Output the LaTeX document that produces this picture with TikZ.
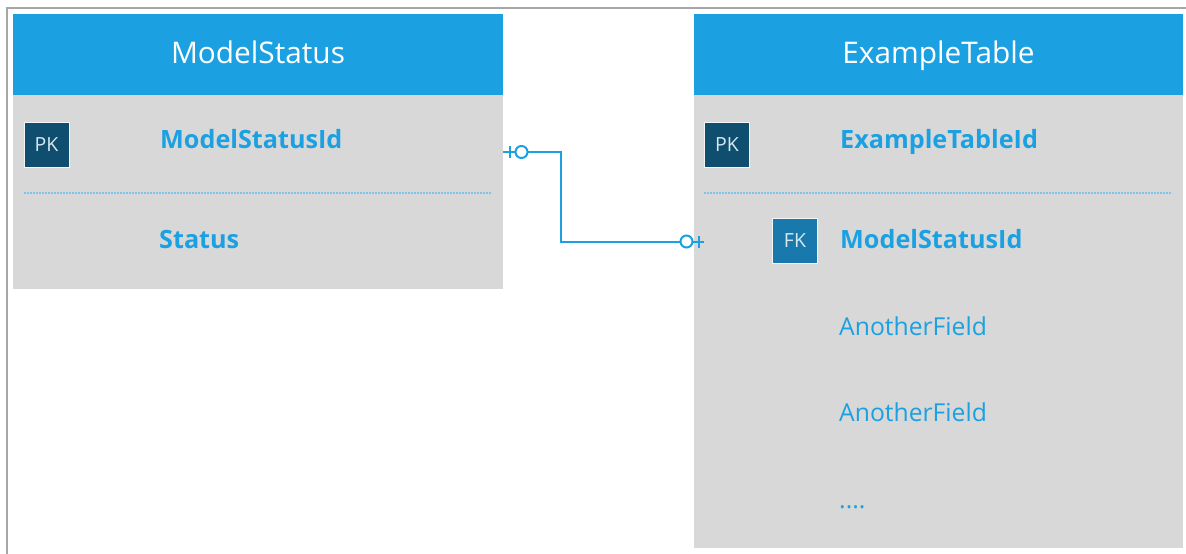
\documentclass[tikz,border=0pt]{standalone}
\usepackage{fontspec}
\setmainfont{Open Sans}
\definecolor{hdr}{HTML}{1BA1E2}
\definecolor{bodyg}{HTML}{D8D8D8}
\definecolor{pkc}{HTML}{0F4E6E}
\definecolor{fkc}{HTML}{1A79AC}
\definecolor{framec}{HTML}{A6A6A6}
\definecolor{dotc}{HTML}{7EC4EA}
\definecolor{keytxt}{HTML}{D6E8F2}
\begin{document}
\begin{tikzpicture}[x=1pt,y=-1pt,
  hdrbox/.style={fill=hdr, draw=none, inner sep=0pt, minimum height=81pt, anchor=north west},
  hdrtext/.style={anchor=base, inner sep=0pt, text=white, font=\fontsize{29.8}{32}\selectfont},
  bodybox/.style={fill=bodyg, draw=none, inner sep=0pt, anchor=north west},
  keybox/.style={draw=white!92!gray, line width=1pt, inner sep=0pt, minimum size=45pt, text=keytxt, font=\fontsize{19.5}{20}\selectfont},
  fieldb/.style={anchor=base west, inner sep=0pt, text=hdr, font=\fontsize{25.2}{26}\selectfont\bfseries},
  fieldr/.style={anchor=base west, inner sep=0pt, text=hdr, font=\fontsize{24.7}{26}\selectfont},
  sep/.style={dotc, line width=1.5pt, dash pattern=on 2pt off 1pt},
  conn/.style={hdr, line width=2pt},
  endcirc/.style={circle, draw=hdr, line width=2pt, fill=white, inner sep=0pt, minimum size=12pt}
]
\useasboundingbox (0,0) rectangle (1186,554);
\fill[white] (0,0) rectangle (1186,554);
% frame
\draw[framec, line width=2pt] (7,554) -- (7,8) -- (1186,8);

% ModelStatus table
\node[bodybox, minimum width=490pt, minimum height=194pt] (msbody) at (13,95) {};
\node[hdrbox, minimum width=490pt] (mshead) at (13,14) {};
\node[hdrtext] (mstitle) at (258,63.5) {ModelStatus};
\node[keybox, fill=pkc] (mspk) at (46.5,145) {PK};
\node[fieldb] (msid) at (160,148) {ModelStatusId};
\draw[sep] (24,193) -- (491,193);
\node[fieldb] (msstatus) at (159,248) {Status};

% ExampleTable table
\node[bodybox, minimum width=489pt, minimum height=453pt] (etbody) at (694,95) {};
\node[hdrbox, minimum width=489pt] (ethead) at (694,14) {};
\node[hdrtext] (ettitle) at (938.5,63.5) {ExampleTable};
\node[keybox, fill=pkc] (etpk) at (727,145) {PK};
\node[fieldb] (etid) at (840,148) {ExampleTableId};
\draw[sep] (704,193) -- (1172,193);
\node[keybox, fill=fkc] (etfk) at (795,241) {FK};
\node[fieldb] (etmsid) at (840,248) {ModelStatusId};
\node[fieldr] (etf1) at (839,335) {AnotherField};
\node[fieldr] (etf2) at (839,421) {AnotherField};
\node[fieldr] (etdots) at (839,508) {....};

% connector
\coordinate (p1) at (msbody.north east |- 0,152);
\coordinate (p2) at (704,241.5);
\draw[conn] (p1) -- (561,152) |- (p2);
\draw[conn] (510,146) -- (510,158);
\node[endcirc] (c1) at (521.5,152) {};
\draw[conn] (699,235.5) -- (699,247.5);
\node[endcirc] (c2) at (686.5,241.5) {};
\end{tikzpicture}
\end{document}
